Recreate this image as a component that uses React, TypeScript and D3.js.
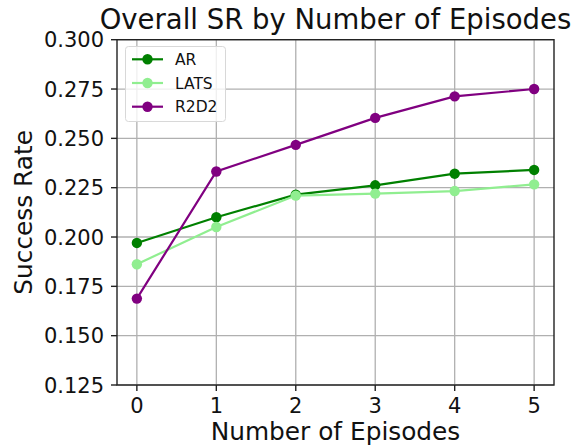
import React from "react";
import * as d3 from "d3";

const episodes = [0, 1, 2, 3, 4, 5];
const arValues = [0.197, 0.210, 0.2215, 0.2262, 0.2321, 0.234];
const latsValues = [0.1862, 0.2051, 0.221, 0.222, 0.2233, 0.2267];
const r2d2Values = [0.1688, 0.2332, 0.2467, 0.2604, 0.2713, 0.275];
const yTicks = [0.125, 0.15, 0.175, 0.2, 0.225, 0.25, 0.275, 0.3];
const seriesNames = ["AR", "LATS", "R2D2"];
const seriesColors = ["#008000", "#90ee90", "#800080"];

const W = 587;
const H = 446;
const left = 117;
const right = 554;
const top = 39.7;
const bottom = 385;
const font = "DejaVu Sans, sans-serif";

export default function App() {
  const x = d3.scaleLinear().domain([-0.25, 5.25]).range([left, right]);
  const y = d3.scaleLinear().domain([0.125, 0.3]).range([bottom, top]);
  const series = [arValues, latsValues, r2d2Values];
  const line = d3
    .line<number>()
    .x((_, i) => x(episodes[i]))
    .y((d) => y(d));

  return (
    <svg
      width={W}
      height={H}
      style={{ position: "absolute", left: 0, top: 0, background: "#fff" }}
      fontFamily={font}
    >
      <rect x={0} y={0} width={W} height={H} fill="#fff" />
      {/* grid */}
      {episodes.map((e) => (
        <line key={"gx" + e} x1={x(e)} x2={x(e)} y1={top} y2={bottom} stroke="#b0b0b0" strokeWidth={1.3} />
      ))}
      {yTicks.map((t) => (
        <line key={"gy" + t} x1={left} x2={right} y1={y(t)} y2={y(t)} stroke="#b0b0b0" strokeWidth={1.3} />
      ))}
      {/* series */}
      {series.map((vals, si) => (
        <g key={"s" + si}>
          <path d={line(vals) || ""} fill="none" stroke={seriesColors[si]} strokeWidth={2.2} />
          {vals.map((v, i) => (
            <circle key={i} cx={x(episodes[i])} cy={y(v)} r={5.2} fill={seriesColors[si]} />
          ))}
        </g>
      ))}
      {/* spines */}
      <rect x={left} y={top} width={right - left} height={bottom - top} fill="none" stroke="#222" strokeWidth={1.4} />
      {/* x ticks */}
      {episodes.map((e) => (
        <g key={"xt" + e}>
          <line x1={x(e)} x2={x(e)} y1={bottom} y2={bottom + 6} stroke="#222" strokeWidth={1.4} />
          <text x={x(e)} y={413} textAnchor="middle" fontSize={21} fill="#111">
            {e}
          </text>
        </g>
      ))}
      {/* y ticks */}
      {yTicks.map((t) => (
        <g key={"yt" + t}>
          <line x1={left - 6} x2={left} y1={y(t)} y2={y(t)} stroke="#222" strokeWidth={1.4} />
          <text x={104} y={y(t)} dy="0.36em" textAnchor="end" fontSize={21} fill="#111">
            {d3.format(".3f")(t)}
          </text>
        </g>
      ))}
      {/* labels */}
      <text x={(left + right) / 2} y={29} textAnchor="middle" fontSize={27.5} fill="#111">
        Overall SR by Number of Episodes
      </text>
      <text x={(left + right) / 2} y={440} textAnchor="middle" fontSize={24.8} fill="#111">
        Number of Episodes
      </text>
      <text
        transform={`translate(32, ${(top + bottom) / 2}) rotate(-90)`}
        textAnchor="middle"
        fontSize={24.8}
        fill="#111"
      >
        Success Rate
      </text>
      {/* legend */}
      <rect x={125.5} y={46.5} width={100} height={75} rx={3} fill="#fff" fillOpacity={0.8} stroke="#d8d8d8" strokeWidth={1} />
      {seriesNames.map((n, i) => {
        const ly = 59.3 + i * 23.7;
        return (
          <g key={"lg" + n}>
            <line x1={132} x2={163} y1={ly} y2={ly} stroke={seriesColors[i]} strokeWidth={2.2} />
            <circle cx={147.5} cy={ly} r={5.2} fill={seriesColors[i]} />
            <text x={175} y={ly} dy="0.36em" fontSize={15.5} fill="#111">
              {n}
            </text>
          </g>
        );
      })}
    </svg>
  );
}
